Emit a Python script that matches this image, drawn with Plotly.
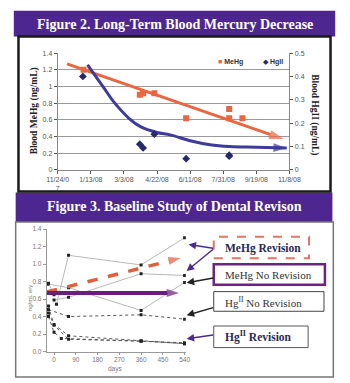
import plotly.graph_objects as go

W, H = 350, 383
def px(x): return x / W
def py(y): return 1 - y / H

# ---------------- Figure 2 data ----------------
meh_dates = ['2008-01-02', '2008-03-27', '2008-04-01', '2008-04-18', '2008-06-05', '2008-08-09', '2008-08-09', '2008-08-29']
meh_vals = [1.20, 0.90, 0.92, 0.92, 0.62, 0.62, 0.73, 0.62]
hg_dates = ['2008-01-01', '2008-03-27', '2008-04-01', '2008-04-18', '2008-06-05', '2008-08-09', '2008-08-09']
hg_vals = [0.40, 0.11, 0.094, 0.153, 0.048, 0.059, 0.063]
meh_trend_dates = ['2007-12-08', '2008-10-30']
meh_trend_vals = [1.27, 0.37]
hg_trend_dates = ['2008-01-08', '2008-02-02', '2008-02-17', '2008-03-11', '2008-03-28', '2008-04-22',
                  '2008-05-12', '2008-06-11', '2008-07-11', '2008-08-10', '2008-09-19', '2008-11-04']
hg_trend_vals = [0.45, 0.35, 0.29, 0.22, 0.185, 0.16, 0.15, 0.125, 0.108, 0.10, 0.097, 0.094]
fig2_tickvals = ['2007-11-24', '2008-01-13', '2008-03-03', '2008-04-22', '2008-06-11', '2008-07-31', '2008-09-19', '2008-11-08']
fig2_ticktext = ['11/24/0<br>7', '1/13/08', '3/3/08', '4/22/08', '6/11/08', '7/31/08', '9/19/08', '11/8/08']

# ---------------- Figure 3 data ----------------
meh_series = [
    ([-23, 60, 360, 540], [0.77, 0.73, 0.47, 0.79]),
    ([10, 60, 360, 540], [0.54, 1.10, 0.99, 1.30]),
    ([0, 60, 360, 540], [0.59, 0.62, 0.89, 0.87]),
    ([-23, 0], [0.78, 0.65]),
]
hg_series = [
    ([-23, 60, 360, 540], [0.48, 0.40, 0.42, 0.37]),
    ([-23, 0, 60, 360, 540], [0.44, 0.31, 0.18, 0.12, 0.09]),
    ([-23, 0, 30, 360, 540], [0.40, 0.22, 0.15, 0.12, 0.10]),
    ([-23, 0, 60, 360, 540], [0.52, 0.30, 0.14, 0.12, 0.09]),
]
rev_arrow_days = [-30, 524]
rev_arrow_vals = [0.68, 1.07]
norev_arrow_days = [-30, 517]
norev_arrow_vals = [0.67, 0.67]
fig3_xticks = [0, 90, 180, 270, 360, 450, 540]

ORANGE = '#ea6540'
BLUE = '#3d3b9c'
NAVY = '#27286e'
PURPLE_BANNER = '#4e2690'
SANS = 'Liberation Sans, Arial, sans-serif'
SERIF = 'Liberation Serif, Times New Roman, serif'

fig = go.Figure()

# Fig 2 traces
fig.add_trace(go.Scatter(x=meh_trend_dates, y=meh_trend_vals, mode='lines+markers', xaxis='x', yaxis='y',
                         line=dict(color=ORANGE, width=3),
                         marker=dict(symbol='arrow', angleref='previous', size=[0, 15], color=ORANGE,
                                     line=dict(width=0)),
                         showlegend=False, hoverinfo='skip'))
fig.add_trace(go.Scatter(x=meh_dates, y=meh_vals, mode='markers', xaxis='x', yaxis='y',
                         marker=dict(symbol='square', size=6, color=ORANGE), showlegend=False))
fig.add_trace(go.Scatter(x=hg_trend_dates, y=hg_trend_vals, mode='lines+markers', xaxis='x', yaxis='y2',
                         line=dict(color=BLUE, width=3, shape='spline', smoothing=1.0),
                         marker=dict(symbol='arrow', angleref='previous',
                                     size=[0] * (len(hg_trend_vals) - 1) + [14], color=BLUE,
                                     line=dict(width=0)),
                         showlegend=False, hoverinfo='skip'))
fig.add_trace(go.Scatter(x=hg_dates, y=hg_vals, mode='markers', xaxis='x', yaxis='y2',
                         marker=dict(symbol='diamond', size=6, color=NAVY), showlegend=False))

# Fig 3 traces
for d, v in meh_series:
    fig.add_trace(go.Scatter(x=d, y=v, mode='lines+markers', xaxis='x3', yaxis='y3',
                             line=dict(color='#b0b0b0', width=0.9),
                             marker=dict(symbol='square', size=3, color='#222'), showlegend=False))
for d, v in hg_series:
    fig.add_trace(go.Scatter(x=d, y=v, mode='lines+markers', xaxis='x3', yaxis='y3',
                             line=dict(color='#555', width=1, dash='dot'),
                             marker=dict(symbol='square', size=3, color='#222'), showlegend=False))
fig.add_trace(go.Scatter(x=rev_arrow_days, y=rev_arrow_vals, mode='lines+markers', xaxis='x3', yaxis='y3',
                         line=dict(color='#e0603e', width=3.5, dash='dash'),
                         marker=dict(symbol='arrow', angleref='previous', size=[0, 13], color='#e0603e',
                                     line=dict(width=0)),
                         showlegend=False, hoverinfo='skip'))
fig.add_trace(go.Scatter(x=norev_arrow_days, y=norev_arrow_vals, mode='lines+markers', xaxis='x3', yaxis='y3',
                         line=dict(color='#6a1f7c', width=4),
                         marker=dict(symbol='arrow', angleref='previous', size=[0, 13], color='#6a1f7c',
                                     line=dict(width=0)),
                         showlegend=False, hoverinfo='skip'))

tickfont2 = dict(family=SANS, size=7, color='#555')
tickfont3 = dict(family=SANS, size=6.5, color='#777')

shapes = [
    # banners
    dict(type='rect', xref='paper', yref='paper', x0=px(3), x1=px(347), y0=py(33), y1=py(7),
         fillcolor=PURPLE_BANNER, line=dict(width=0), layer='below'),
    dict(type='rect', xref='paper', yref='paper', x0=px(5), x1=px(344), y0=py(222), y1=py(192),
         fillcolor=PURPLE_BANNER, line=dict(width=0), layer='below'),
    # fig2 frame
    dict(type='rect', xref='paper', yref='paper', x0=px(8), x1=px(342), y0=py(191), y1=py(33),
         line=dict(color='#1a1a1a', width=2.5), layer='below'),
    # fig3 frame
    dict(type='rect', xref='paper', yref='paper', x0=px(5), x1=px(345), y0=py(380), y1=py(222),
         line=dict(color='#777', width=1.5), layer='below'),
    # fig3 label boxes
    dict(type='rect', xref='paper', yref='paper', x0=px(217), x1=px(319), y0=py(259), y1=py(237),
         line=dict(color='#e07563', width=2, dash='dash')),
    dict(type='rect', xref='paper', yref='paper', x0=px(217), x1=px(336), y0=py(286), y1=py(265),
         line=dict(color='#6a2480', width=2.5)),
    dict(type='rect', xref='paper', yref='paper', x0=px(217), x1=px(335), y0=py(313), y1=py(293),
         line=dict(color='#444', width=1)),
    dict(type='rect', xref='paper', yref='paper', x0=px(217), x1=px(318), y0=py(350), y1=py(328),
         line=dict(color='#555', width=1)),
]

annotations = [
    dict(text='<b>Figure 2. Long-Term Blood Mercury Decrease</b>', x=px(175), y=py(21), xref='paper', yref='paper',
         showarrow=False, font=dict(family=SERIF, size=14, color='white'), xanchor='center', yanchor='middle'),
    dict(text='<b>Figure 3. Baseline Study of Dental Revison</b>', x=px(175), y=py(206), xref='paper', yref='paper',
         showarrow=False, font=dict(family=SERIF, size=14, color='white'), xanchor='center', yanchor='middle'),
    dict(text='<b>Blood MeHg (ng/mL)</b>', x=px(25), y=py(109), xref='paper', yref='paper', textangle=-90,
         showarrow=False, font=dict(family=SERIF, size=9.5, color='#222'), xanchor='center', yanchor='middle'),
    dict(text='<b>Blood HgII (ng/mL)</b>', x=px(324), y=py(113), xref='paper', yref='paper', textangle=90,
         showarrow=False, font=dict(family=SERIF, size=9.5, color='#222'), xanchor='center', yanchor='middle'),
    dict(text="<span style='color:%s'>■</span> <b>MeHg</b>" % ORANGE, x=px(219), y=py(59), xref='paper',
         yref='paper', showarrow=False, font=dict(family=SANS, size=7, color='#333'), xanchor='left',
         yanchor='middle'),
    dict(text="<span style='color:%s'>◆</span> <b>HgII</b>" % NAVY, x=px(268), y=py(59), xref='paper',
         yref='paper', showarrow=False, font=dict(family=SANS, size=7, color='#333'), xanchor='left',
         yanchor='middle'),
    dict(text='ng/mL ery', x=px(20), y=py(300), xref='paper', yref='paper', textangle=-90,
         showarrow=False, font=dict(family=SANS, size=6, color='#777'), xanchor='center', yanchor='middle'),
    dict(text='days', x=px(111), y=py(372), xref='paper', yref='paper',
         showarrow=False, font=dict(family=SANS, size=6.5, color='#777'), xanchor='center', yanchor='middle'),
    dict(text='<b>MeHg Revision</b>', x=px(227), y=py(249), xref='paper', yref='paper', showarrow=False,
         font=dict(family=SERIF, size=11.5, color='#2a2a55'), xanchor='left', yanchor='middle'),
    dict(text='MeHg No Revision', x=px(227), y=py(276), xref='paper', yref='paper', showarrow=False,
         font=dict(family=SERIF, size=11, color='#333'), xanchor='left', yanchor='middle'),
    dict(text='Hg<sup>II</sup> No Revision', x=px(227), y=py(304), xref='paper', yref='paper', showarrow=False,
         font=dict(family=SERIF, size=11, color='#333'), xanchor='left', yanchor='middle'),
    dict(text='<b>Hg<sup>II</sup> Revision</b>', x=px(227), y=py(339), xref='paper', yref='paper', showarrow=False,
         font=dict(family=SERIF, size=11.5, color='#2a2a55'), xanchor='left', yanchor='middle'),
]

arrow_specs = [
    ((216, 249), (190, 245), '#4a2c8c'),
    ((216, 249), (188, 272), '#4a2c8c'),
    ((216, 279), (188, 284), '#222'),
    ((216, 309), (188, 317), '#222'),
    ((216, 337), (188, 341), '#4a2c8c'),
]
for (tx, ty), (hx, hy), col in arrow_specs:
    annotations.append(dict(x=px(hx), y=py(hy), ax=tx - hx, ay=ty - hy, xref='paper', yref='paper',
                            axref='pixel', ayref='pixel', showarrow=True, arrowhead=2, arrowsize=1,
                            arrowwidth=1.5, arrowcolor=col, text=''))

fig.update_layout(
    width=W, height=H, margin=dict(l=0, r=0, t=0, b=0),
    paper_bgcolor='white', plot_bgcolor='rgba(0,0,0,0)',
    showlegend=False,
    xaxis=dict(domain=[px(50), px(298)], anchor='y', type='date',
               range=['2007-11-24', '2008-11-08'], tickmode='array', tickvals=fig2_tickvals,
               ticktext=fig2_ticktext, tickfont=tickfont2, showgrid=False, showline=True,
               linecolor='#888', linewidth=1, ticks='outside', ticklen=3, tickcolor='#555', zeroline=False),
    yaxis=dict(domain=[py(169), py(50)], anchor='x', range=[0, 1.4], dtick=0.2, tickfont=tickfont2,
               showgrid=True, gridcolor='#9a9a9a', gridwidth=1, showline=True, linecolor='#888',
               ticks='outside', ticklen=3, tickcolor='#555', zeroline=False),
    yaxis2=dict(overlaying='y', anchor='x', side='right', range=[0, 0.5], dtick=0.1, tickfont=tickfont2,
                showgrid=False, showline=True, linecolor='#888', ticks='outside', ticklen=3,
                tickcolor='#555', zeroline=False),
    xaxis3=dict(domain=[px(38.3), px(187.1)], anchor='y3', range=[-30, 545], tickmode='array',
                tickvals=fig3_xticks, tickfont=tickfont3, showgrid=False, showline=True, linecolor='#999',
                ticks='outside', ticklen=2, tickcolor='#999', zeroline=False),
    yaxis3=dict(domain=[py(354), py(229.3)], anchor='x3', range=[0, 1.4], dtick=0.2, tickformat='.1f',
                tickfont=tickfont3, showgrid=False, showline=True, linecolor='#999', ticks='outside',
                ticklen=3, tickcolor='#999', zeroline=False),
    shapes=shapes, annotations=annotations,
)

fig.write_html('out.html')
